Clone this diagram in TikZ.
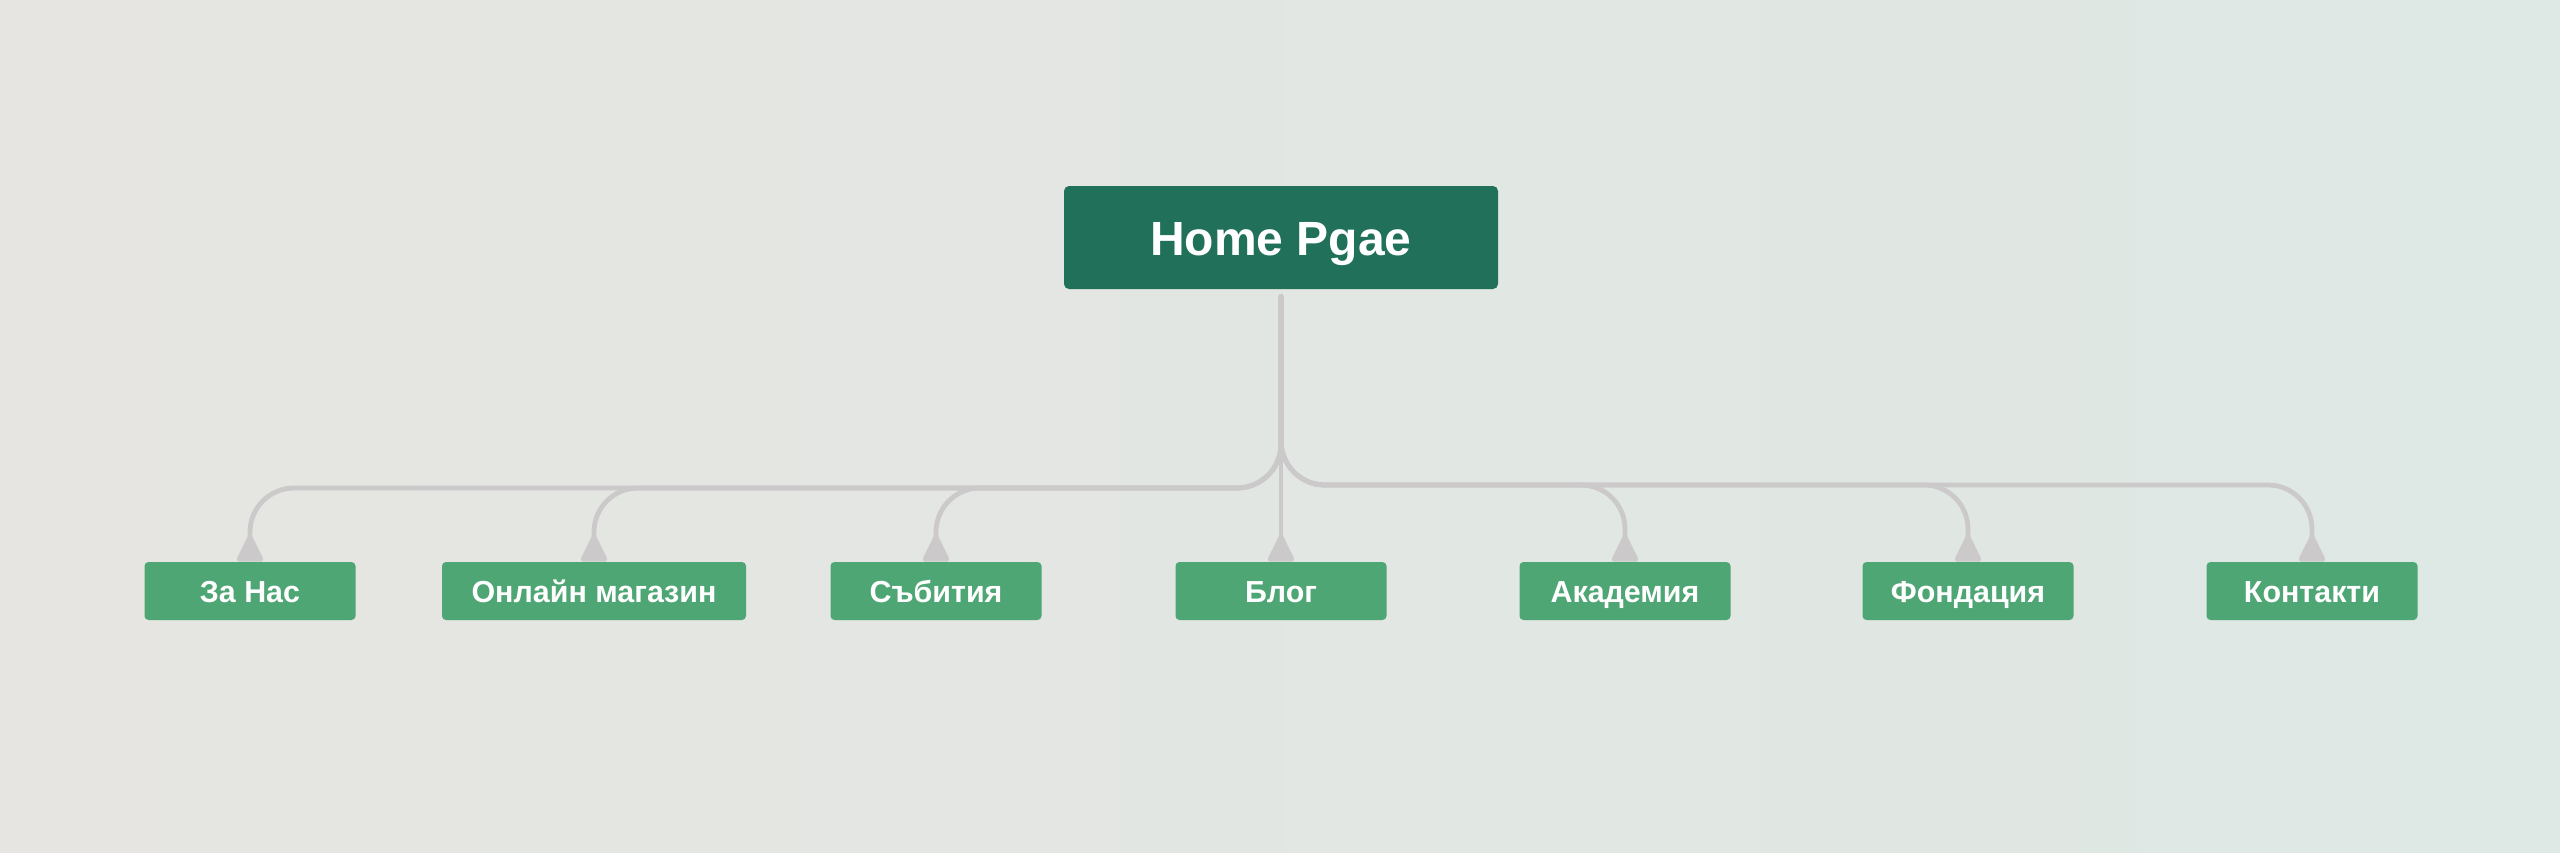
\documentclass[tikz,border=0pt]{standalone}
\usepackage{fontspec}
\setmainfont{Liberation Sans}
\usetikzlibrary{arrows.meta,calc}
\definecolor{bgL}{RGB}{230,229,225}
\definecolor{bgR}{RGB}{222,232,228}
\definecolor{mainc}{RGB}{32,112,90}
\definecolor{childc}{RGB}{77,166,115}
\definecolor{linec}{RGB}{203,201,201}
\tikzset{
  mainbox/.style={fill=mainc, rounded corners=2.5pt, minimum width=217pt, minimum height=51.5pt,
    text=white, font=\fontsize{24}{29}\selectfont\bfseries, inner sep=0pt,
    text height=18pt, text depth=0pt},
  childbox/.style={fill=childc, rounded corners=2pt, minimum width=105.5pt, minimum height=29pt,
    text=white, font=\fontsize{15.2}{19}\selectfont\bfseries, inner sep=0pt,
    text height=11.8pt, text depth=0pt},
  conn/.style={draw=linec, line width=2.4pt, line cap=round, rounded corners=22pt,
    shorten <=3.5pt, -{Triangle[reversed,round,length=15pt,width=14pt]}},
}
\begin{document}
\begin{tikzpicture}[x=0.5pt,y=-0.5pt]
\shade[left color=bgL, right color=bgR] (0,0) rectangle (2560,852);
\useasboundingbox (0,0) rectangle (2560,852);
\node[mainbox] (home) at (1281,237.5) {Home Pgae};
\node[childbox] (zanas) at (250,591) {За Нас};
\node[childbox, minimum width=152pt] (shop) at (594,591) {Онлайн магазин};
\node[childbox] (events) at (936,591) {Събития};
\node[childbox] (blog) at (1281,591) {Блог};
\node[childbox] (acad) at (1625,591) {Академия};
\node[childbox] (fond) at (1968,591) {Фондация};
\node[childbox] (cont) at (2312,591) {Контакти};
\coordinate (bl) at (1281,488);
\coordinate (br) at (1281,485);
\foreach \c in {zanas,shop,events}{
  \draw[conn] (home.south) |- (\c.north |- bl) -- (\c.north);
}
\foreach \c in {acad,fond,cont}{
  \draw[conn] (home.south) |- (\c.north |- br) -- (\c.north);
}
\draw[conn] (home.south) -- (blog.north);
\end{tikzpicture}
\end{document}
